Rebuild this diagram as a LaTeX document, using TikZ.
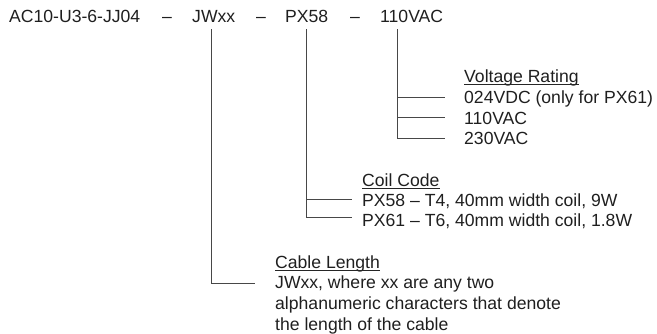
\documentclass[tikz,border=0pt]{standalone}
\usepackage{fontspec}
\setmainfont{Liberation Sans}
\usetikzlibrary{positioning}

\begin{document}
\begin{tikzpicture}[x=1pt, y=-1pt,
    lbl/.style={inner sep=0pt, text height=12.6pt, text depth=0pt, anchor=west,
      font=\fontsize{17.6}{20.5}\selectfont, text=black!88},
    branch/.style={draw=black!72, line width=0.9pt},
    uline/.style={draw=black!85, line width=0.8pt}]
  \useasboundingbox (0,0) rectangle (657,334);
  % part number
  \node[lbl] (code) at (9,16.7) {AC10-U3-6-JJ04};
  \node[lbl] (d1) at (162,16.7) {--};
  \node[lbl] (jw) at (192,16.7) {JWxx};
  \node[lbl] (d2) at (256,16.7) {--};
  \node[lbl] (px) at (285,16.7) {PX58};
  \node[lbl] (d3) at (350,16.7) {--};
  \node[lbl] (vac) at (380,16.7) {110VAC};

  % voltage rating
  \node[lbl] (vhead) at (464,76.5) {Voltage Rating};
  \node[lbl, below=7.9pt of vhead.south west, anchor=north west] (v1) {024VDC (only for PX61)};
  \node[lbl, below=7.4pt of v1.south west, anchor=north west] (v2) {110VAC};
  \node[lbl, below=7.4pt of v2.south west, anchor=north west] (v3) {230VAC};

  % coil code
  \node[lbl] (chead) at (362,180.5) {Coil Code};
  \node[lbl, below=6.4pt of chead.south west, anchor=north west] (p1) {PX58 -- T4, 40mm width coil, 9W};
  \node[lbl, below=7.4pt of p1.south west, anchor=north west] (p2) {PX61 -- T6, 40mm width coil, 1.8W};

  % cable length
  \node[lbl] (lhead) at (275,262.5) {Cable Length};
  \node[lbl, below=6.4pt of lhead.south west, anchor=north west] (l1) {JWxx, where xx are any two};
  \node[lbl, below=8pt of l1.south west, anchor=north west] (l2) {alphanumeric characters that denote};
  \node[lbl, below=8.3pt of l2.south west, anchor=north west] (l3) {the length of the cable};

  \draw[uline] ([yshift=-1.6pt]vhead.south west) -- ([yshift=-1.6pt]vhead.south east);
  \draw[uline] ([yshift=-1.6pt]chead.south west) -- ([yshift=-1.6pt]chead.south east);
  \draw[uline] ([yshift=-1.6pt]lhead.south west) -- ([yshift=-1.6pt]lhead.south east);

  % branches
  \coordinate (vtop) at ([xshift=-14pt, yshift=-6pt]vac.south);
  \coordinate (ptop) at ([yshift=-6pt]px.south);
  \coordinate (jtop) at ([xshift=-2.5pt, yshift=-6pt]jw.south);
  \draw[branch] (vtop) |- ([xshift=-19pt]v3.west);
  \draw[branch] (vtop |- v1.west) -- ([xshift=-19pt]v1.west);
  \draw[branch] (vtop |- v2.west) -- ([xshift=-19pt]v2.west);
  \draw[branch] (ptop) |- ([xshift=-10pt, yshift=3pt]p2.west);
  \draw[branch] (ptop |- p1.west) -- ([xshift=-10pt]p1.west);
  \draw[branch] (jtop) |- ([xshift=-20pt, yshift=-2pt]l1.west);
\end{tikzpicture}
\end{document}
